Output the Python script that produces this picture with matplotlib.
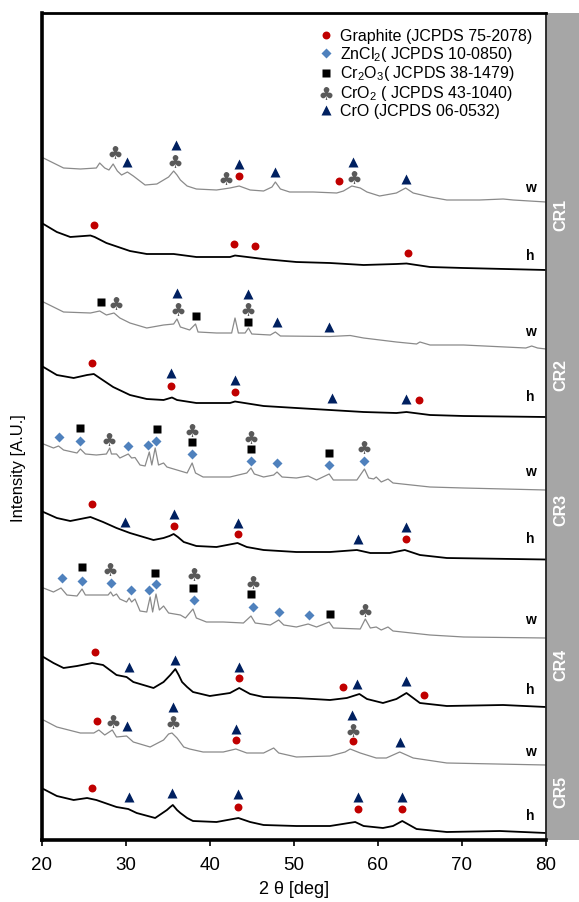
import matplotlib
matplotlib.use("Agg")
import matplotlib.pyplot as plt
from matplotlib.lines import Line2D
from matplotlib.path import Path
from matplotlib.textpath import TextPath
from matplotlib.font_manager import FontProperties

plt.rcParams['font.family'] = ['Liberation Sans', 'DejaVu Sans']
plt.rcParams['mathtext.fontset'] = 'custom'
plt.rcParams['mathtext.rm'] = 'Liberation Sans'
plt.rcParams['mathtext.it'] = 'Liberation Sans:italic'
plt.rcParams['mathtext.bf'] = 'Liberation Sans:bold'

# ---------------- data (2theta in deg, stacked intensity in A.U.) ----------------
cr1_w_tt = [20.2, 22.6, 24.6, 26.5, 26.9, 27.5, 28.0, 28.5, 29.0, 29.5, 30.2, 30.9, 32.3, 33.7, 34.5,
            35.1, 35.5, 35.7, 36.1, 36.5, 37.3, 38.4, 40.8, 42.4, 43.5, 44.8, 46.4, 47.4, 47.8, 48.4,
            49.5, 52.3, 55.1, 55.9, 56.9, 57.9, 58.7, 60.2, 62.2, 63.3, 64.2, 66.2, 68.2, 72.1, 74.9,
            76.1, 80.0]
cr1_w_int = [682, 672, 671, 672, 677, 672, 670, 676, 669, 665, 668, 664, 655, 656, 660,
             663, 667, 669, 665, 660, 654, 651, 650, 652, 654, 650, 649, 653, 658, 651,
             648, 648, 647, 649, 654, 652, 648, 644, 647, 652, 647, 643, 640, 640, 641,
             640, 638]

cr1_h_tt = [20.2, 21.8, 23.4, 25.8, 26.3, 27.7, 30.5, 32.5, 35.7, 38.4, 42.4, 43.0, 46.4, 50.3,
            54.3, 58.3, 62.2, 63.4, 66.2, 70.2, 80.0]
cr1_h_int = [616, 608, 603, 604.5, 603, 597, 589, 586, 586, 583, 583, 584.5, 581, 578,
             577, 575, 576, 576.5, 573, 572, 570]

cr2_w_tt = [20.2, 22.6, 25.8, 26.9, 27.7, 28.6, 29.3, 30.5, 32.5, 34.5, 35.7, 36.1, 36.5, 37.6,
            38.3, 38.6, 40.8, 42.6, 43.0, 43.4, 44.2, 44.6, 45.0, 47.2, 47.8, 48.4, 54.3, 56.7,
            58.3, 62.2, 64.6, 65.0, 66.2, 70.2, 77.6, 78.3, 79.0, 80.0]
cr2_w_int = [538, 528, 527, 529, 525, 527, 522, 517, 512, 515, 516, 521, 513, 510,
             516, 508, 507, 507, 522, 507, 507, 512, 506, 505, 508, 504, 503.5, 504.5,
             502, 498, 496, 498, 495, 495, 492, 494, 492, 491]

cr2_h_tt = [20.2, 21.8, 23.8, 25.4, 26.2, 26.9, 28.5, 30.5, 32.5, 34.5, 35.5, 36.1, 38.4, 42.4,
            43.0, 46.4, 50.3, 54.3, 58.3, 62.2, 63.4, 66.2, 70.2, 80.0]
cr2_h_int = [473, 465, 462, 465, 466, 462, 453, 445, 441, 440, 442.5, 440, 437, 437,
             438.5, 434, 432, 430, 428, 427, 428, 425, 424, 423]

cr3_w_tt = [20.2, 21.4, 22.0, 22.6, 24.2, 24.6, 25.2, 26.5, 27.7, 28.1, 28.3, 28.9, 29.3, 30.3,
            30.7, 31.1, 31.7, 32.3, 32.8, 33.1, 33.5, 33.9, 34.5, 34.9, 36.1, 37.3, 37.9, 38.3,
            39.2, 40.8, 42.4, 44.4, 44.9, 45.3, 46.4, 47.6, 48.0, 48.6, 50.3, 51.7, 52.7, 54.2,
            54.7, 57.5, 58.4, 58.9, 59.5, 59.8, 60.4, 61.2, 61.8, 66.2, 70.2, 80.0]
cr3_w_int = [396, 392, 394, 390, 387, 391, 386, 385, 386, 392, 386, 386, 382, 386,
             382, 382.5, 375, 374, 388, 375, 392, 375, 377, 373, 370, 367, 377, 367,
             363, 363, 363, 367, 372, 366, 363, 365, 368, 363, 362, 364, 360, 366,
             360, 360, 371, 362, 361, 363, 358, 361, 357, 353, 352, 350]

cr3_h_tt = [20.2, 21.8, 23.4, 25.8, 27.3, 28.9, 30.5, 33.3, 34.5, 35.2, 35.7, 36.2, 36.9, 38.4,
            40.8, 43.3, 44.4, 46.4, 50.3, 54.3, 57.5, 59.1, 61.4, 63.2, 65.0, 68.2, 80.0]
cr3_h_int = [328, 322, 319, 323, 318, 312, 307, 300, 302, 304, 306, 303, 298, 294,
             293, 297, 293, 290, 288, 288, 290, 287, 287, 290, 285, 282, 280.5]

cr4_w_tt = [20.2, 21.4, 22.3, 23.0, 24.2, 24.8, 25.2, 26.5, 27.9, 28.2, 28.5, 28.9, 29.3, 30.1,
            30.4, 30.7, 31.1, 31.7, 32.5, 32.9, 33.2, 33.6, 34.0, 34.5, 35.1, 36.5, 37.1, 38.0,
            38.4, 39.6, 41.6, 44.0, 44.9, 45.4, 47.2, 48.2, 48.8, 50.3, 51.7, 52.7, 54.2, 54.7,
            57.9, 58.5, 59.1, 59.8, 60.4, 61.2, 61.8, 66.2, 70.2, 80.0]
cr4_w_int = [252, 248, 252, 245, 244, 251, 245, 245, 245, 248, 244, 246, 241, 238,
             242, 238, 241, 229, 228, 243, 228, 246, 230, 234, 227, 225, 222, 231,
             222, 218, 218, 217, 224, 217, 215, 220, 215, 213, 216, 213, 218, 212,
             211, 221, 212, 213, 210, 213, 209, 205, 203, 202]

cr4_h_tt = [20.2, 21.4, 22.6, 24.2, 26.0, 27.3, 28.9, 30.1, 30.9, 33.3, 34.5, 35.3, 35.7, 35.9,
            36.3, 36.7, 37.3, 38.0, 40.0, 42.4, 43.5, 44.8, 46.4, 50.3, 54.3, 56.3, 57.8, 58.7,
            60.6, 62.2, 63.4, 65.0, 68.2, 74.9, 80.0]
cr4_h_int = [183, 177, 172, 174, 177, 175, 165, 163, 158, 152, 158, 165, 169, 171,
             165, 158, 153, 148, 144, 147, 152, 146, 143, 142, 140, 142, 146, 141,
             137, 141, 147, 137, 134, 135, 133]

cr5_w_tt = [20.2, 21.8, 24.6, 26.2, 26.8, 27.5, 28.4, 28.9, 30.1, 30.9, 32.9, 34.5, 35.1, 35.5,
            36.1, 36.9, 37.6, 39.2, 41.6, 43.1, 44.4, 46.4, 47.6, 48.2, 50.3, 54.3, 56.1, 56.7,
            57.9, 59.8, 61.0, 62.6, 64.2, 68.2, 80.0]
cr5_w_int = [120, 113, 107, 107, 110, 105, 110, 103, 104, 98, 93, 100, 106, 107,
             102, 93, 91, 88, 88, 91, 87, 87, 92, 87, 83, 84, 88, 91,
             87, 82, 82, 88, 82, 77, 75]

cr5_h_tt = [20.2, 21.8, 23.8, 25.4, 26.5, 28.9, 30.3, 31.3, 33.5, 34.9, 35.3, 35.6, 36.1, 36.5,
            37.3, 38.0, 40.8, 43.4, 44.8, 46.4, 50.3, 54.3, 57.3, 58.3, 60.6, 61.8, 62.9, 64.6,
            68.2, 74.5, 80.0]
cr5_h_int = [51, 44, 40, 42, 40, 33, 31, 27, 22, 30, 33, 35, 30, 27,
             22, 19, 18, 22, 18, 15, 14, 14, 18, 14, 12, 14, 19, 11,
             8, 9, 7]

# peak markers (2theta, stacked intensity)
graphite_tt = [43.5, 55.4, 26.2, 42.9, 45.4, 63.6, 26.0, 35.4, 43.0, 64.9, 26.0, 35.8, 43.4, 63.3,
               26.3, 43.5, 55.9, 65.5, 26.6, 43.1, 57.0, 26.0, 43.4, 57.6, 62.9]
graphite_int = [664, 659, 615, 596, 594, 587, 477, 454, 448, 440, 336, 314, 306, 301,
                188, 162, 153, 145, 119, 100, 99, 52, 33, 31, 31]

zncl2_tt = [22.1, 24.6, 30.3, 32.7, 33.6, 37.9, 44.9, 48.0, 54.2, 58.4,
            22.4, 24.8, 28.2, 30.6, 32.8, 33.6, 38.1, 45.1, 48.2, 51.8]
zncl2_int = [403, 399, 394, 395, 399, 386, 379, 377, 375, 379,
             262, 259, 257, 250, 250, 256, 240, 233, 228, 225]

cr2o3_tt = [27.1, 38.4, 44.6, 24.6, 33.7, 37.9, 44.9, 54.2, 24.8, 33.5, 38.0, 44.9, 54.3]
cr2o3_int = [538, 524, 518, 412, 411, 398, 391, 387, 273, 267, 252, 246, 226]

cro2_tt = [28.7, 35.9, 41.9, 57.1, 28.8, 36.2, 44.6, 28.0, 37.9, 44.9, 58.4,
           28.1, 38.1, 45.1, 58.5, 28.5, 35.6, 57.0]
cro2_int = [688, 679, 662, 663, 537, 531, 531, 401, 410, 403, 393,
            271, 266, 258, 230, 119, 118, 110]

cro_tt = [30.2, 36.0, 43.5, 47.8, 57.0, 63.4, 36.1, 44.6, 48.0, 54.2, 35.4, 43.0, 54.5, 63.3,
          29.9, 35.8, 43.3, 57.6, 63.3, 30.4, 35.9, 43.5, 57.5, 63.4,
          30.2, 35.6, 43.1, 56.9, 62.6, 30.4, 35.5, 43.3, 57.6, 62.9]
cro_int = [678, 695, 676, 668, 678, 661, 547, 546, 518, 513, 467, 460, 442, 441,
           318, 326, 317, 301, 313, 173, 180, 173, 156, 159,
           114, 133, 111, 125, 98, 43, 47, 46, 43, 43]

sample_names = ['CR1', 'CR2', 'CR3', 'CR4', 'CR5']
sample_label_y = [625, 465, 330, 175, 48]
trace_tags = ['w', 'h', 'w', 'h', 'w', 'h', 'w', 'h', 'w', 'h']
trace_tag_y = [652, 584, 508, 443, 368, 301, 220, 150, 88, 24]

legend_labels = ['Graphite (JCPDS 75-2078)', 'ZnCl$_2$( JCPDS 10-0850)',
                 'Cr$_2$O$_3$( JCPDS 38-1479)', 'CrO$_2$ ( JCPDS 43-1040)',
                 'CrO (JCPDS 06-0532)']

# ---------------- figure ----------------
W, H = 579, 902
fig = plt.figure(figsize=(W / 100, H / 100), dpi=100)
ax_l, ax_b, ax_r, ax_t = 41.7, 840, 546, 13
ax = fig.add_axes([ax_l / W, 1 - ax_b / H, (ax_r - ax_l) / W, (ax_b - ax_t) / H])
panel = fig.add_axes([ax_r / W, 1 - ax_b / H, 1 - ax_r / W + 0.01, (ax_b - ax_t) / H])
ax.set_zorder(2)

traces = [
    (cr1_w_tt, cr1_w_int), (cr1_h_tt, cr1_h_int),
    (cr2_w_tt, cr2_w_int), (cr2_h_tt, cr2_h_int),
    (cr3_w_tt, cr3_w_int), (cr3_h_tt, cr3_h_int),
    (cr4_w_tt, cr4_w_int), (cr4_h_tt, cr4_h_int),
    (cr5_w_tt, cr5_w_int), (cr5_h_tt, cr5_h_int),
]
for (tt, it), tag in zip(traces, trace_tags):
    if tag == 'w':
        ax.plot(tt, it, color='#8a8a8a', lw=0.9, zorder=2)
    else:
        ax.plot(tt, it, color='black', lw=1.3, zorder=2)

# club marker built from the glyph
tp = TextPath((0, 0), '\u2663', size=1, prop=FontProperties(family='DejaVu Sans'))
ext = tp.get_extents()
club = Path(tp.vertices - [(ext.x0 + ext.x1) / 2, (ext.y0 + ext.y1) / 2], tp.codes)

styles = [
    dict(marker='o', ms=5.7, color='#C00000'),
    dict(marker='D', ms=5.4, color='#4F81BD'),
    dict(marker='s', ms=5.4, color='black'),
    dict(marker=club, ms=11.5, color='#595959'),
    dict(marker='^', ms=7.2, color='#002060'),
]
phase_data = [(graphite_tt, graphite_int), (zncl2_tt, zncl2_int), (cr2o3_tt, cr2o3_int),
              (cro2_tt, cro2_int), (cro_tt, cro_int)]
handles = []
for (tt, it), st, lab in zip(phase_data, styles, legend_labels):
    ax.plot(tt, it, linestyle='none', mec='none', zorder=3, **st)
    handles.append(Line2D([], [], linestyle='none', mec='none', label=lab, **st))

for tag, y in zip(trace_tags, trace_tag_y):
    ax.text(78.1, y, tag, ha='center', va='center', fontsize=10, fontweight='bold')

leg = ax.legend(handles=handles, loc='upper left', bbox_to_anchor=(0.553, 0.981),
                frameon=False, fontsize=11.5, handlelength=0.7, handletextpad=0.5,
                labelspacing=0.05, borderpad=0, borderaxespad=0)

ax.set_xlim(20, 80)
ax.set_ylim(0, ax_b - ax_t)
ax.set_xticks([20, 30, 40, 50, 60, 70, 80])
ax.set_yticks([])
ax.tick_params(axis='x', direction='out', length=4, width=1.2, labelsize=13.5, pad=8)
for s in ['left', 'bottom']:
    ax.spines[s].set_linewidth(2.6)
ax.spines['top'].set_linewidth(2.0)
ax.spines['right'].set_linewidth(1.3)
ax.spines['right'].set_color('#222222')
ax.set_xlabel('2 \u03b8 [deg]', fontsize=13, labelpad=5)
ax.set_ylabel('Intensity [A.U.]', fontsize=12, labelpad=8)
ax.yaxis.set_label_coords(-0.031, 0.45)

panel.set_facecolor('#A6A6A6')
panel.set_ylim(0, ax_b - ax_t)
panel.set_xlim(0, 1)
panel.set_xticks([])
panel.set_yticks([])
for s in panel.spines.values():
    s.set_visible(False)
for name, y in zip(sample_names, sample_label_y):
    panel.text(0.45 * (W - ax_r) / (W - ax_r + 5.79), y, name, rotation=90, ha='center', va='center',
               color='white', fontsize=11.5, fontweight='bold')

fig.savefig('out.png', dpi=100)
